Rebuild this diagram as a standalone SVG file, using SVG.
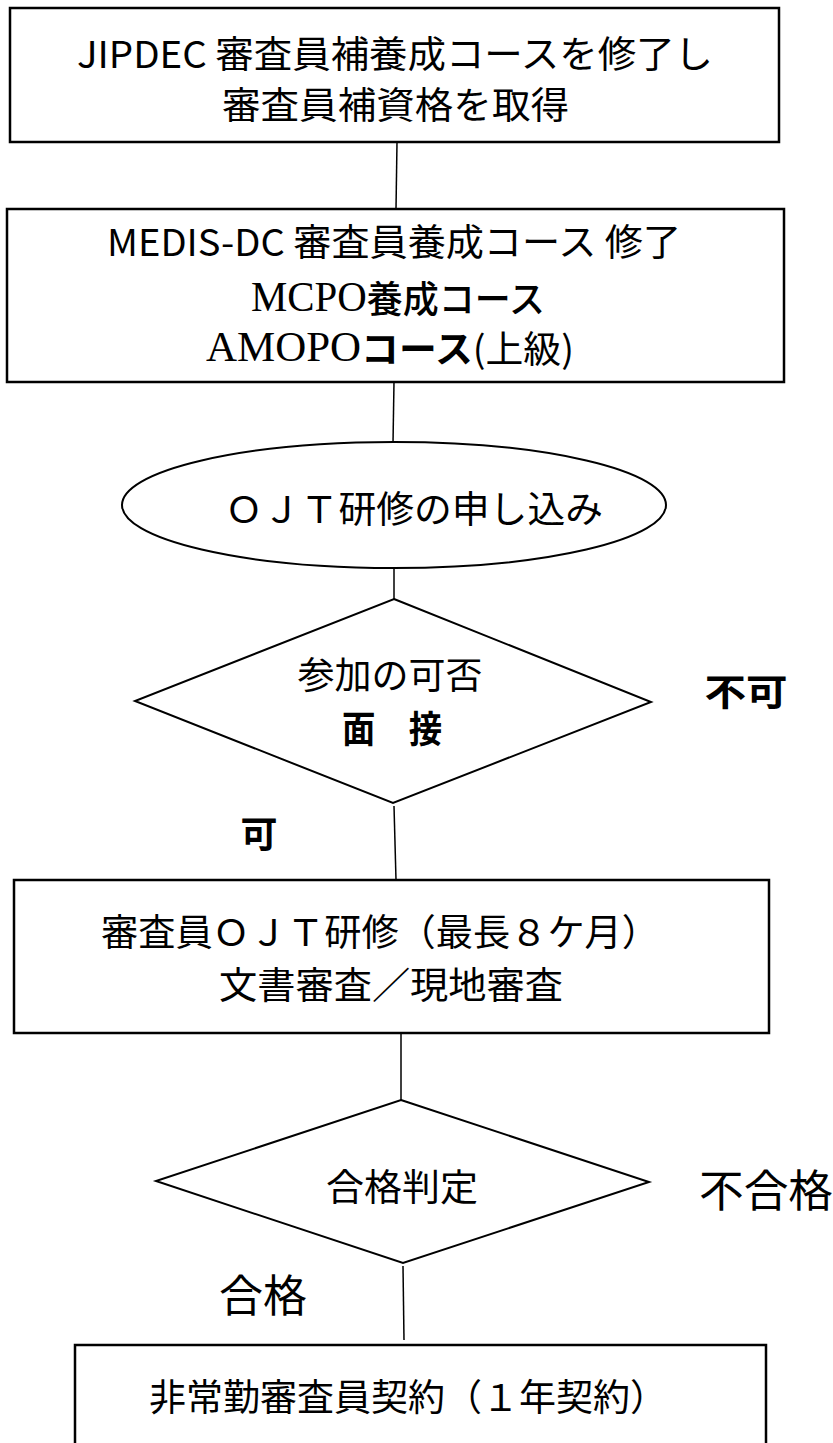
<svg xmlns="http://www.w3.org/2000/svg" width="833" height="1443" viewBox="0 0 833 1443">
<style>
.box{fill:#fff;stroke:#000;stroke-width:2.5}
.shape{fill:#fff;stroke:#000;stroke-width:2}
.conn{fill:none;stroke:#000;stroke-width:1.5}
text{font-family:"Noto Sans CJK JP","Noto Sans CJK SC",sans-serif;font-size:37px;fill:#000;dominant-baseline:central;text-anchor:middle}
.serif{font-family:"Liberation Serif","Noto Sans CJK JP",serif}
.b{font-weight:bold}
.m{font-weight:500}
.lbl{font-size:44px}
</style>
<rect width="833" height="1443" fill="#fff"/>
<g id="connectors">
<line class="conn" x1="397" y1="142" x2="396" y2="209"/>
<line class="conn" x1="394" y1="382" x2="393" y2="443"/>
<line class="conn" x1="394" y1="568" x2="394" y2="599"/>
<line class="conn" x1="394" y1="806" x2="396" y2="880"/>
<line class="conn" x1="401" y1="1033" x2="401" y2="1100"/>
<line class="conn" x1="403" y1="1266" x2="404" y2="1340"/>
</g>
<g id="node1">
<rect class="box" x="10" y="8" width="769" height="134"/>
<text x="395" y="52" textLength="636" lengthAdjust="spacingAndGlyphs">JIPDEC 審査員補養成コースを修了し</text>
<text x="395.5" y="103" textLength="347" lengthAdjust="spacingAndGlyphs">審査員補資格を取得</text>
</g>
<g id="node2">
<rect class="box" x="7" y="209" width="777" height="173"/>
<text x="394" y="240" textLength="574" lengthAdjust="spacingAndGlyphs">MEDIS-DC 審査員養成コース 修了</text>
<text x="398" y="297" textLength="294" lengthAdjust="spacingAndGlyphs"><tspan class="serif" font-size="42">MCPO</tspan><tspan class="m">養成コース</tspan></text>
<text x="390" y="347" textLength="368" lengthAdjust="spacingAndGlyphs"><tspan class="serif" font-size="42">AMOPO</tspan><tspan class="b">コース</tspan><tspan>(上級)</tspan></text>
</g>
<g id="node3">
<ellipse class="shape" cx="394" cy="505" rx="272" ry="63"/>
<text x="414" y="507" textLength="378" lengthAdjust="spacingAndGlyphs">ＯＪＴ研修の申し込み</text>
</g>
<g id="node4">
<polygon class="shape" points="394,599 651,702 393,803 135,701"/>
<text x="390" y="673" textLength="185" lengthAdjust="spacingAndGlyphs">参加の可否</text>
<text class="b" x="392" y="727" textLength="100" lengthAdjust="spacingAndGlyphs">面　接</text>
</g>
<g id="label-fuka">
<text class="b" x="746" y="690" font-size="41" textLength="83" lengthAdjust="spacingAndGlyphs">不可</text>
</g>
<g id="label-ka">
<text class="b" x="259" y="832" font-size="38">可</text>
</g>
<g id="node5">
<rect class="box" x="14" y="880" width="755" height="153"/>
<text x="380" y="930" textLength="558" lengthAdjust="spacingAndGlyphs">審査員ＯＪＴ研修（最長８ケ月）</text>
<text x="391" y="983" textLength="344" lengthAdjust="spacingAndGlyphs">文書審査／現地審査</text>
</g>
<g id="node6">
<polygon class="shape" points="401,1100 649,1182 403,1263 156,1181"/>
<text x="402" y="1185" textLength="152" lengthAdjust="spacingAndGlyphs">合格判定</text>
</g>
<g id="label-fugoukaku">
<text class="lbl" x="766" y="1188" textLength="134" lengthAdjust="spacingAndGlyphs">不合格</text>
</g>
<g id="label-goukaku">
<text class="lbl" x="263" y="1293" textLength="88" lengthAdjust="spacingAndGlyphs">合格</text>
</g>
<g id="node7">
<rect class="box" x="75" y="1345" width="691" height="120"/>
<text x="408" y="1395" textLength="518" lengthAdjust="spacingAndGlyphs">非常勤審査員契約（１年契約）</text>
</g>
</svg>
